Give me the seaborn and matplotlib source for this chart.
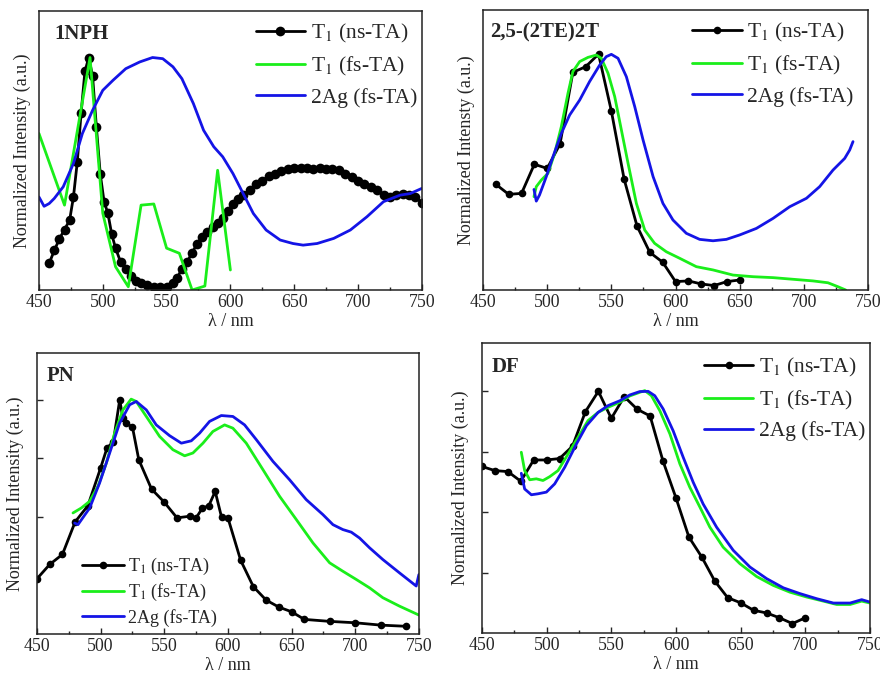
import matplotlib
matplotlib.use("Agg")
import matplotlib.pyplot as plt
from matplotlib.ticker import MultipleLocator
import seaborn as sns

# ---- 1NPH ----
nph_ns_x = [458, 462, 466, 470, 474, 477, 480, 483, 486, 489, 492, 495, 498, 501, 504, 507, 510,
            514, 518, 522, 526, 530, 535, 540, 545, 550, 555, 558, 562, 566, 570, 574, 578, 582,
            586, 590, 594, 598, 602, 606, 610, 615, 620, 625, 630, 635, 640, 645, 650, 655, 660,
            665, 670, 675, 680, 685, 690, 695, 700, 705, 710, 715, 720, 725, 730, 735, 740, 745, 750]
nph_ns_y = [0.115, 0.17, 0.22, 0.26, 0.30, 0.40, 0.55, 0.76, 0.94, 1.0, 0.92, 0.70, 0.50, 0.38,
            0.33, 0.24, 0.18, 0.12, 0.09, 0.06, 0.04, 0.03, 0.02, 0.015, 0.012, 0.015, 0.03, 0.05,
            0.09, 0.12, 0.16, 0.20, 0.23, 0.25, 0.27, 0.29, 0.31, 0.34, 0.37, 0.39, 0.41, 0.43,
            0.455, 0.47, 0.49, 0.50, 0.51, 0.52, 0.525, 0.525, 0.525, 0.52, 0.525, 0.52, 0.52,
            0.515, 0.50, 0.485, 0.47, 0.455, 0.445, 0.43, 0.41, 0.40, 0.41, 0.415, 0.41, 0.40, 0.375]
nph_fs_x = [450, 470, 490, 500, 510, 520, 530, 540, 550, 560, 570, 580, 590, 600]
nph_fs_y = [0.673, 0.365, 1.0, 0.33, 0.10, 0.014, 0.365, 0.37, 0.18, 0.158, 0.0, 0.017, 0.515, 0.086]
nph_ag_x = [450, 454, 458, 462, 469, 477, 484, 492, 500, 508, 518, 529, 539, 547, 555, 562, 571,
            579, 587, 594, 602, 610, 618, 628, 639, 649, 657, 668, 681, 694, 707, 720, 733, 741, 750]
nph_ag_y = [0.40, 0.36, 0.372, 0.394, 0.444, 0.544, 0.673, 0.773, 0.859, 0.902, 0.952, 0.981, 1.0,
            0.995, 0.96, 0.909, 0.802, 0.687, 0.616, 0.573, 0.501, 0.415, 0.329, 0.258, 0.215,
            0.20, 0.193, 0.20, 0.222, 0.258, 0.315, 0.38, 0.408, 0.415, 0.437]

# ---- 2,5-(2TE)2T ----
te_ns_x = [460, 470, 480, 490, 500, 510, 520, 530, 540, 550, 560, 570, 580, 590, 600, 610, 620,
           630, 640, 650]
te_ns_y = [0.453, 0.41, 0.414, 0.539, 0.521, 0.626, 0.933, 0.957, 1.011, 0.767, 0.474, 0.274,
           0.161, 0.119, 0.036, 0.039, 0.026, 0.019, 0.036, 0.043]
te_fs_x = [489.7, 491.5, 495.4, 500.6, 505.8, 511, 516.2, 520, 525.3, 531.8, 538.3, 542.2, 547.4,
           552.6, 557.8, 563, 569.5, 576, 583.7, 592.8, 603.2, 616.2, 629.2, 644.8, 660.4, 676,
           691.5, 707, 718.8, 726.6, 732.6]
te_fs_y = [0.40, 0.443, 0.471, 0.50, 0.586, 0.70, 0.843, 0.936, 0.979, 0.997, 1.007, 0.993, 0.929,
           0.829, 0.686, 0.543, 0.371, 0.257, 0.20, 0.164, 0.136, 0.10, 0.086, 0.064, 0.057,
           0.053, 0.046, 0.039, 0.031, 0.014, 0.0]
te_ag_x = [489.7, 491.5, 494, 499.3, 504.5, 511, 517.5, 525.3, 533, 540.9, 546, 550, 555.2, 561.7,
           568.2, 574.7, 582.5, 590.2, 598, 608.4, 618.8, 629.2, 639.6, 650, 663, 676, 689, 702,
           712.3, 722.7, 731.8, 735.7, 738.3]
te_ag_y = [0.431, 0.381, 0.407, 0.486, 0.571, 0.671, 0.75, 0.814, 0.893, 0.964, 1.0, 1.01, 0.993,
           0.914, 0.786, 0.643, 0.486, 0.371, 0.30, 0.243, 0.217, 0.211, 0.217, 0.236, 0.264,
           0.307, 0.357, 0.393, 0.443, 0.514, 0.564, 0.60, 0.636]

# ---- PN ----
pn_ns_x = [450, 460, 470, 480, 490, 500, 505, 510, 515, 517.5, 520, 525, 530, 540, 550, 560, 570,
           575, 580, 585, 590, 595, 600, 610, 620, 630, 640, 650, 660, 680, 700, 720, 740]
pn_ns_y = [0.236, 0.297, 0.34, 0.479, 0.548, 0.709, 0.794, 0.822, 1.0, 0.922, 0.90, 0.884, 0.744,
           0.619, 0.563, 0.496, 0.503, 0.496, 0.538, 0.548, 0.609, 0.499, 0.496, 0.315, 0.202,
           0.145, 0.115, 0.095, 0.0625, 0.054, 0.048, 0.038, 0.033]
pn_fs_x = [478.3, 484.8, 491.4, 497.9, 504.5, 511, 517.5, 524, 528, 535.9, 546.3, 556.8, 566,
           572.5, 580.4, 588.2, 597.4, 603.9, 614.4, 627.5, 640.6, 653.7, 666.8, 679.9, 690.3,
           700.8, 711.3, 721.7, 734.8, 750]
pn_fs_y = [0.517, 0.538, 0.567, 0.631, 0.73, 0.858, 0.957, 1.003, 0.993, 0.929, 0.844, 0.787,
           0.761, 0.773, 0.815, 0.865, 0.893, 0.879, 0.815, 0.702, 0.588, 0.489, 0.389, 0.304,
           0.268, 0.233, 0.197, 0.155, 0.119, 0.081]
pn_ag_x = [479.6, 482.2, 491.4, 499.2, 507.1, 514.9, 522.8, 528, 535.9, 543.7, 554.2, 563.4,
           571.2, 577.8, 585.6, 594.8, 603.9, 613.1, 622.3, 635.4, 648.4, 661.5, 674.6, 682.5,
           690.3, 696.9, 703.4, 711.3, 721.7, 734.8, 747.9, 750]
pn_ag_y = [0.474, 0.467, 0.538, 0.645, 0.773, 0.90, 0.979, 0.993, 0.957, 0.893, 0.847, 0.815,
           0.825, 0.858, 0.908, 0.933, 0.929, 0.893, 0.83, 0.737, 0.659, 0.574, 0.51, 0.467,
           0.446, 0.435, 0.41, 0.368, 0.318, 0.261, 0.205, 0.254]

# ---- DF ----
df_ns_x = [450, 460, 470, 480, 490, 500, 510, 520, 530, 540, 550, 560, 570, 580, 590, 600, 610,
           620, 630, 640, 650, 660, 670, 680, 690, 700]
df_ns_y = [0.689, 0.672, 0.668, 0.628, 0.716, 0.716, 0.722, 0.773, 0.916, 1.0, 0.888, 0.978,
           0.926, 0.898, 0.711, 0.559, 0.397, 0.314, 0.215, 0.146, 0.125, 0.094, 0.083, 0.063,
           0.039, 0.063]
df_fs_x = [480.4, 483, 486.9, 492, 497.2, 502.4, 508.8, 516.6, 524.3, 532, 539.8, 547.5, 556.6,
           564.3, 572, 575.9, 581, 587.5, 595.3, 603, 610.7, 618.5, 626.2, 636.5, 649.4, 662.3,
           675.2, 688.1, 701, 713.9, 724.3, 734.6, 743.6, 750]
df_fs_y = [0.748, 0.672, 0.634, 0.638, 0.631, 0.647, 0.672, 0.741, 0.81, 0.879, 0.913, 0.934,
           0.955, 0.981, 0.996, 1.003, 0.982, 0.92, 0.824, 0.70, 0.603, 0.521, 0.438, 0.355,
           0.287, 0.234, 0.197, 0.169, 0.149, 0.132, 0.118, 0.118, 0.132, 0.124]
df_ag_x = [480.4, 483, 488.2, 493.3, 499.8, 506.2, 514, 523, 530.8, 539.8, 547.5, 556.6, 564.3,
           572, 578.5, 583.6, 590.1, 597.8, 605.6, 613.3, 621, 631.4, 644.3, 657.2, 670.1, 683,
           695.9, 708.8, 721.7, 734.6, 743.6, 750]
df_ag_y = [0.661, 0.596, 0.572, 0.576, 0.583, 0.617, 0.686, 0.782, 0.858, 0.913, 0.941, 0.961,
           0.985, 0.999, 1.0, 0.982, 0.927, 0.837, 0.727, 0.624, 0.534, 0.438, 0.342, 0.273,
           0.225, 0.187, 0.163, 0.142, 0.124, 0.124, 0.138, 0.128]

labels = ["T$_1$ (ns-TA)", "T$_1$ (fs-TA)", "2Ag (fs-TA)"]
green = "#1aee1a"
blue = "#1414e6"

sns.set_style("ticks")
plt.rcParams["font.family"] = ["Liberation Serif", "DejaVu Serif"]
plt.rcParams["mathtext.fontset"] = "stix"
plt.rcParams["xtick.direction"] = "in"
plt.rcParams["ytick.direction"] = "in"

fig = plt.figure(figsize=(8.8, 6.76), dpi=100)


def panel(rect, name, ns, fs, ag, ylabel, yticks, leg_kw, msize):
    ax = fig.add_axes(rect)
    sns.lineplot(x=ns[0], y=ns[1], ax=ax, color="black", lw=2, marker="o", markersize=msize,
                 markeredgewidth=0, estimator=None, sort=False, label=labels[0])
    sns.lineplot(x=fs[0], y=fs[1], ax=ax, color=green, lw=2, estimator=None, sort=False,
                 label=labels[1])
    sns.lineplot(x=ag[0], y=ag[1], ax=ax, color=blue, lw=2, estimator=None, sort=False,
                 label=labels[2])
    ax.set_xlim(450, 750)
    ax.set_ylim(0, 1.2)
    ax.xaxis.set_major_locator(MultipleLocator(50))
    ax.xaxis.set_minor_locator(MultipleLocator(25))
    ax.set_yticks(yticks)
    ax.set_yticklabels([])
    ax.tick_params(axis="both", which="major", length=4, width=1, labelsize=12.8, pad=3)
    ax.tick_params(axis="x", which="minor", length=2.5, width=1)
    ax.tick_params(top=False, right=False)
    for s in ax.spines.values():
        s.set_color("#222222")
        s.set_linewidth(1.1)
    ax.set_xlabel("λ / nm", fontsize=13, labelpad=1)
    ax.set_ylabel(ylabel, fontsize=13, labelpad=6)
    ax.text(name[1], name[2], name[0], transform=ax.transAxes, fontsize=15, fontweight="bold",
            va="top", ha="left")
    ax.legend(frameon=False, handlelength=2.3, handletextpad=0.25, borderaxespad=0, **leg_kw)
    return ax


panel([0.0443, 0.571, 0.435, 0.4127], ("1NPH", 0.04, 0.955),
      (nph_ns_x, nph_ns_y), (nph_fs_x, nph_fs_y), (nph_ag_x, nph_ag_y),
      "Normalized Intensity (a.u.)", [],
      dict(loc="upper right", bbox_to_anchor=(1.01, 0.99), fontsize=15.5, labelspacing=0.45), 7)
panel([0.5489, 0.571, 0.4375, 0.4142], ("2,5-(2TE)2T", 0.018, 0.957),
      (te_ns_x, te_ns_y), (te_fs_x, te_fs_y), (te_ag_x, te_ag_y),
      "Normalized Intensty (a.u.)", [],
      dict(loc="upper right", bbox_to_anchor=(0.985, 0.99), fontsize=15.5, labelspacing=0.45), 5.5)
panel([0.042, 0.0621, 0.434, 0.4157], ("PN", 0.026, 0.954),
      (pn_ns_x, pn_ns_y), (pn_fs_x, pn_fs_y), (pn_ag_x, pn_ag_y),
      "Normalized Intensity (a.u.)", [0.5, 0.75, 1.0],
      dict(loc="lower left", bbox_to_anchor=(0.1, 0.0), fontsize=13, labelspacing=0.3), 5.5)
panel([0.5477, 0.0636, 0.4409, 0.429], ("DF", 0.026, 0.952),
      (df_ns_x, df_ns_y), (df_fs_x, df_fs_y), (df_ag_x, df_ag_y),
      "Normalized Intensity (a.u.)", [0.25, 0.5, 0.75, 1.0],
      dict(loc="upper right", bbox_to_anchor=(1.01, 0.985), fontsize=15.5, labelspacing=0.45), 5.5)

fig.savefig("out.png", dpi=100)
